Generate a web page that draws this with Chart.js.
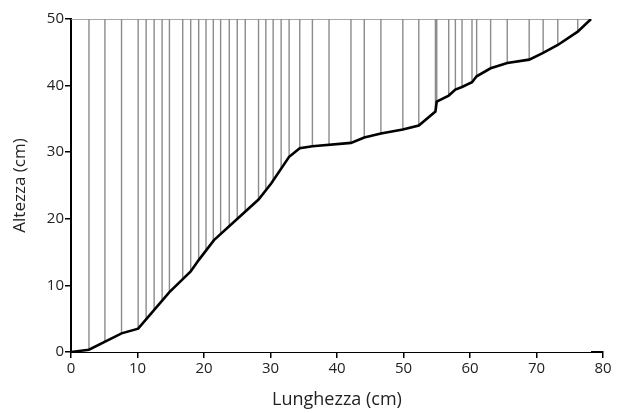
<!DOCTYPE html>
<html>
<head>
<meta charset="utf-8">
<script src="https://cdn.jsdelivr.net/npm/chart.js@4.4.0/dist/chart.umd.min.js"></script>
<style>
  html, body { margin: 0; padding: 0; background: #fff; }
  #wrap { width: 617px; height: 413px; }
</style>
</head>
<body>
<div id="wrap"><canvas id="profileChart" width="617" height="413"></canvas></div>
<script>
// Profile of the slope (lunghezza, altezza)
const profileX = [0, 2.7, 7.6, 10.1, 14.8, 18.0, 19.2, 21.5, 28.2, 30.1, 32.8, 34.4, 36.3, 42.1, 44.1, 46.6, 49.9, 52.3, 54.8, 55.0, 56.8, 57.8, 58.8, 60.3, 61.0, 63.1, 65.6, 68.9, 71.0, 73.2, 76.2, 78.2];
const profileY = [0, 0.35, 2.8, 3.5, 9.0, 12.1, 13.8, 16.8, 22.9, 25.3, 29.3, 30.6, 30.9, 31.4, 32.2, 32.8, 33.4, 34.0, 36.1, 37.6, 38.5, 39.4, 39.8, 40.5, 41.4, 42.6, 43.4, 43.9, 44.9, 46.1, 48.1, 50];

// Positions of the vertical hatch lines
const hatchX = [2.7, 5.1, 7.6, 10.1, 11.3, 12.5, 13.7, 14.8, 16.8, 18.0, 19.2, 20.3, 21.4, 22.5, 23.8, 25.0, 26.2, 28.2, 29.3, 30.4, 31.6, 32.8, 34.4, 36.3, 38.8, 42.1, 44.1, 46.6, 49.9, 52.3, 54.8, 55.0, 56.8, 57.8, 58.8, 60.3, 61.0, 63.1, 65.6, 68.9, 71.0, 73.2, 76.2];
const hatchTop = 50;

// Axis ticks
const xTicks = [0, 10, 20, 30, 40, 50, 60, 70, 80];
const yTicks = [0, 10, 20, 30, 40, 50];

const textColor = '#222';
const fontFamily = '"Open Sans", "DejaVu Sans", sans-serif';

// Build hatch data: each line goes from 0 to top, the white fill under the profile hides the lower part
function buildHatch() {
    const pts = [{ x: 0, y: hatchTop }, { x: profileX[profileX.length - 1], y: hatchTop }, { x: 0, y: null }];
    hatchX.forEach(x => {
        pts.push({ x: x, y: 0 }, { x: x, y: hatchTop }, { x: x, y: null });
    });
    return pts;
}

const ctx = document.getElementById('profileChart').getContext('2d');
new Chart(ctx, {
    type: 'line',
    data: {
        datasets: [{
            label: 'Profilo',
            data: profileX.map((x, i) => ({ x: x, y: profileY[i] })),
            borderColor: '#000',
            borderWidth: 2.6,
            backgroundColor: '#fff',
            fill: 'origin',
            pointRadius: 0,
            tension: 0,
            order: 0
        }, {
            label: 'Linee',
            data: buildHatch(),
            borderColor: '#8c8c8c',
            borderWidth: 1.4,
            pointRadius: 0,
            spanGaps: false,
            fill: false,
            order: 1
        }]
    },
    options: {
        responsive: false,
        animation: false,
        layout: { padding: { top: 19, right: 14, left: 0, bottom: 0 } },
        plugins: {
            legend: { display: false },
            tooltip: { enabled: false }
        },
        scales: {
            x: {
                type: 'linear',
                min: 0,
                max: 80,
                z: 1,
                afterFit: scale => { scale.height = 61; },
                afterBuildTicks: scale => { scale.ticks = xTicks.map(v => ({ value: v })); },
                grid: { drawOnChartArea: false, drawTicks: true, tickLength: 6, color: '#000', lineWidth: 1.5 },
                border: { color: '#000', width: 2 },
                ticks: { color: textColor, font: { family: fontFamily, size: 15 }, padding: 2, maxRotation: 0 },
                title: {
                    display: true,
                    text: 'Lunghezza (cm)',
                    color: textColor,
                    font: { family: fontFamily, size: 18 },
                    padding: { top: 0, bottom: 2 }
                }
            },
            y: {
                type: 'linear',
                min: 0,
                max: 50,
                z: 1,
                afterFit: scale => { scale.width = 71; },
                afterBuildTicks: scale => { scale.ticks = yTicks.map(v => ({ value: v })); },
                grid: { drawOnChartArea: false, drawTicks: true, tickLength: 6, color: '#000', lineWidth: 1.5 },
                border: { color: '#000', width: 2 },
                ticks: { color: textColor, font: { family: fontFamily, size: 15 }, padding: 1 },
                title: {
                    display: true,
                    text: 'Altezza (cm)',
                    color: textColor,
                    font: { family: fontFamily, size: 17 },
                    padding: { top: 10, bottom: 0 }
                }
            }
        }
    }
});
</script>
</body>
</html>
